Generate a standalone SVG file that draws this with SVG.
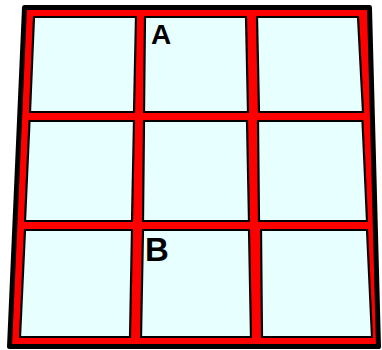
<svg xmlns="http://www.w3.org/2000/svg" width="382" height="350" viewBox="0 0 382 350">
<style>
.frame{fill:#ff0000;stroke:#000;stroke-width:5;stroke-linejoin:round}
.cell{fill:#e8ffff;stroke:#000;stroke-width:2.2;stroke-linejoin:round}
.lbl{font-family:"Liberation Sans",Arial,sans-serif;font-weight:bold;fill:#000}
</style>
<g id="frame"><polygon class="frame" points="24.5,7.5 369.5,7.5 378.5,346.5 9.5,346.5"/></g>
<g id="cells">
<g id="r1c1"><polygon class="cell" points="34,17 136,17 134,112 30,112"/></g>
<g id="r1c2"><polygon class="cell" points="145,17 246,17 248,112 144,112"/></g>
<g id="r1c3"><polygon class="cell" points="257,17 358,17 363,112 259,112"/></g>
<g id="r2c1"><polygon class="cell" points="29.5,121 134,121 132,221 25,221"/></g>
<g id="r2c2"><polygon class="cell" points="144,121 247,121 249,221 143,221"/></g>
<g id="r2c3"><polygon class="cell" points="258,121 362.5,121 367,221 259,221"/></g>
<g id="r3c1"><polygon class="cell" points="25,230 132,230 130,337 20,337"/></g>
<g id="r3c2"><polygon class="cell" points="143,230 249,230 251,337 141,337"/></g>
<g id="r3c3"><polygon class="cell" points="261,230 367,230 372,337 262,337"/></g>
</g>
<g id="labels">
<text class="lbl" x="151" y="43.5" font-size="28">A</text>
<text class="lbl" x="145" y="261" font-size="33">B</text>
</g>
</svg>
